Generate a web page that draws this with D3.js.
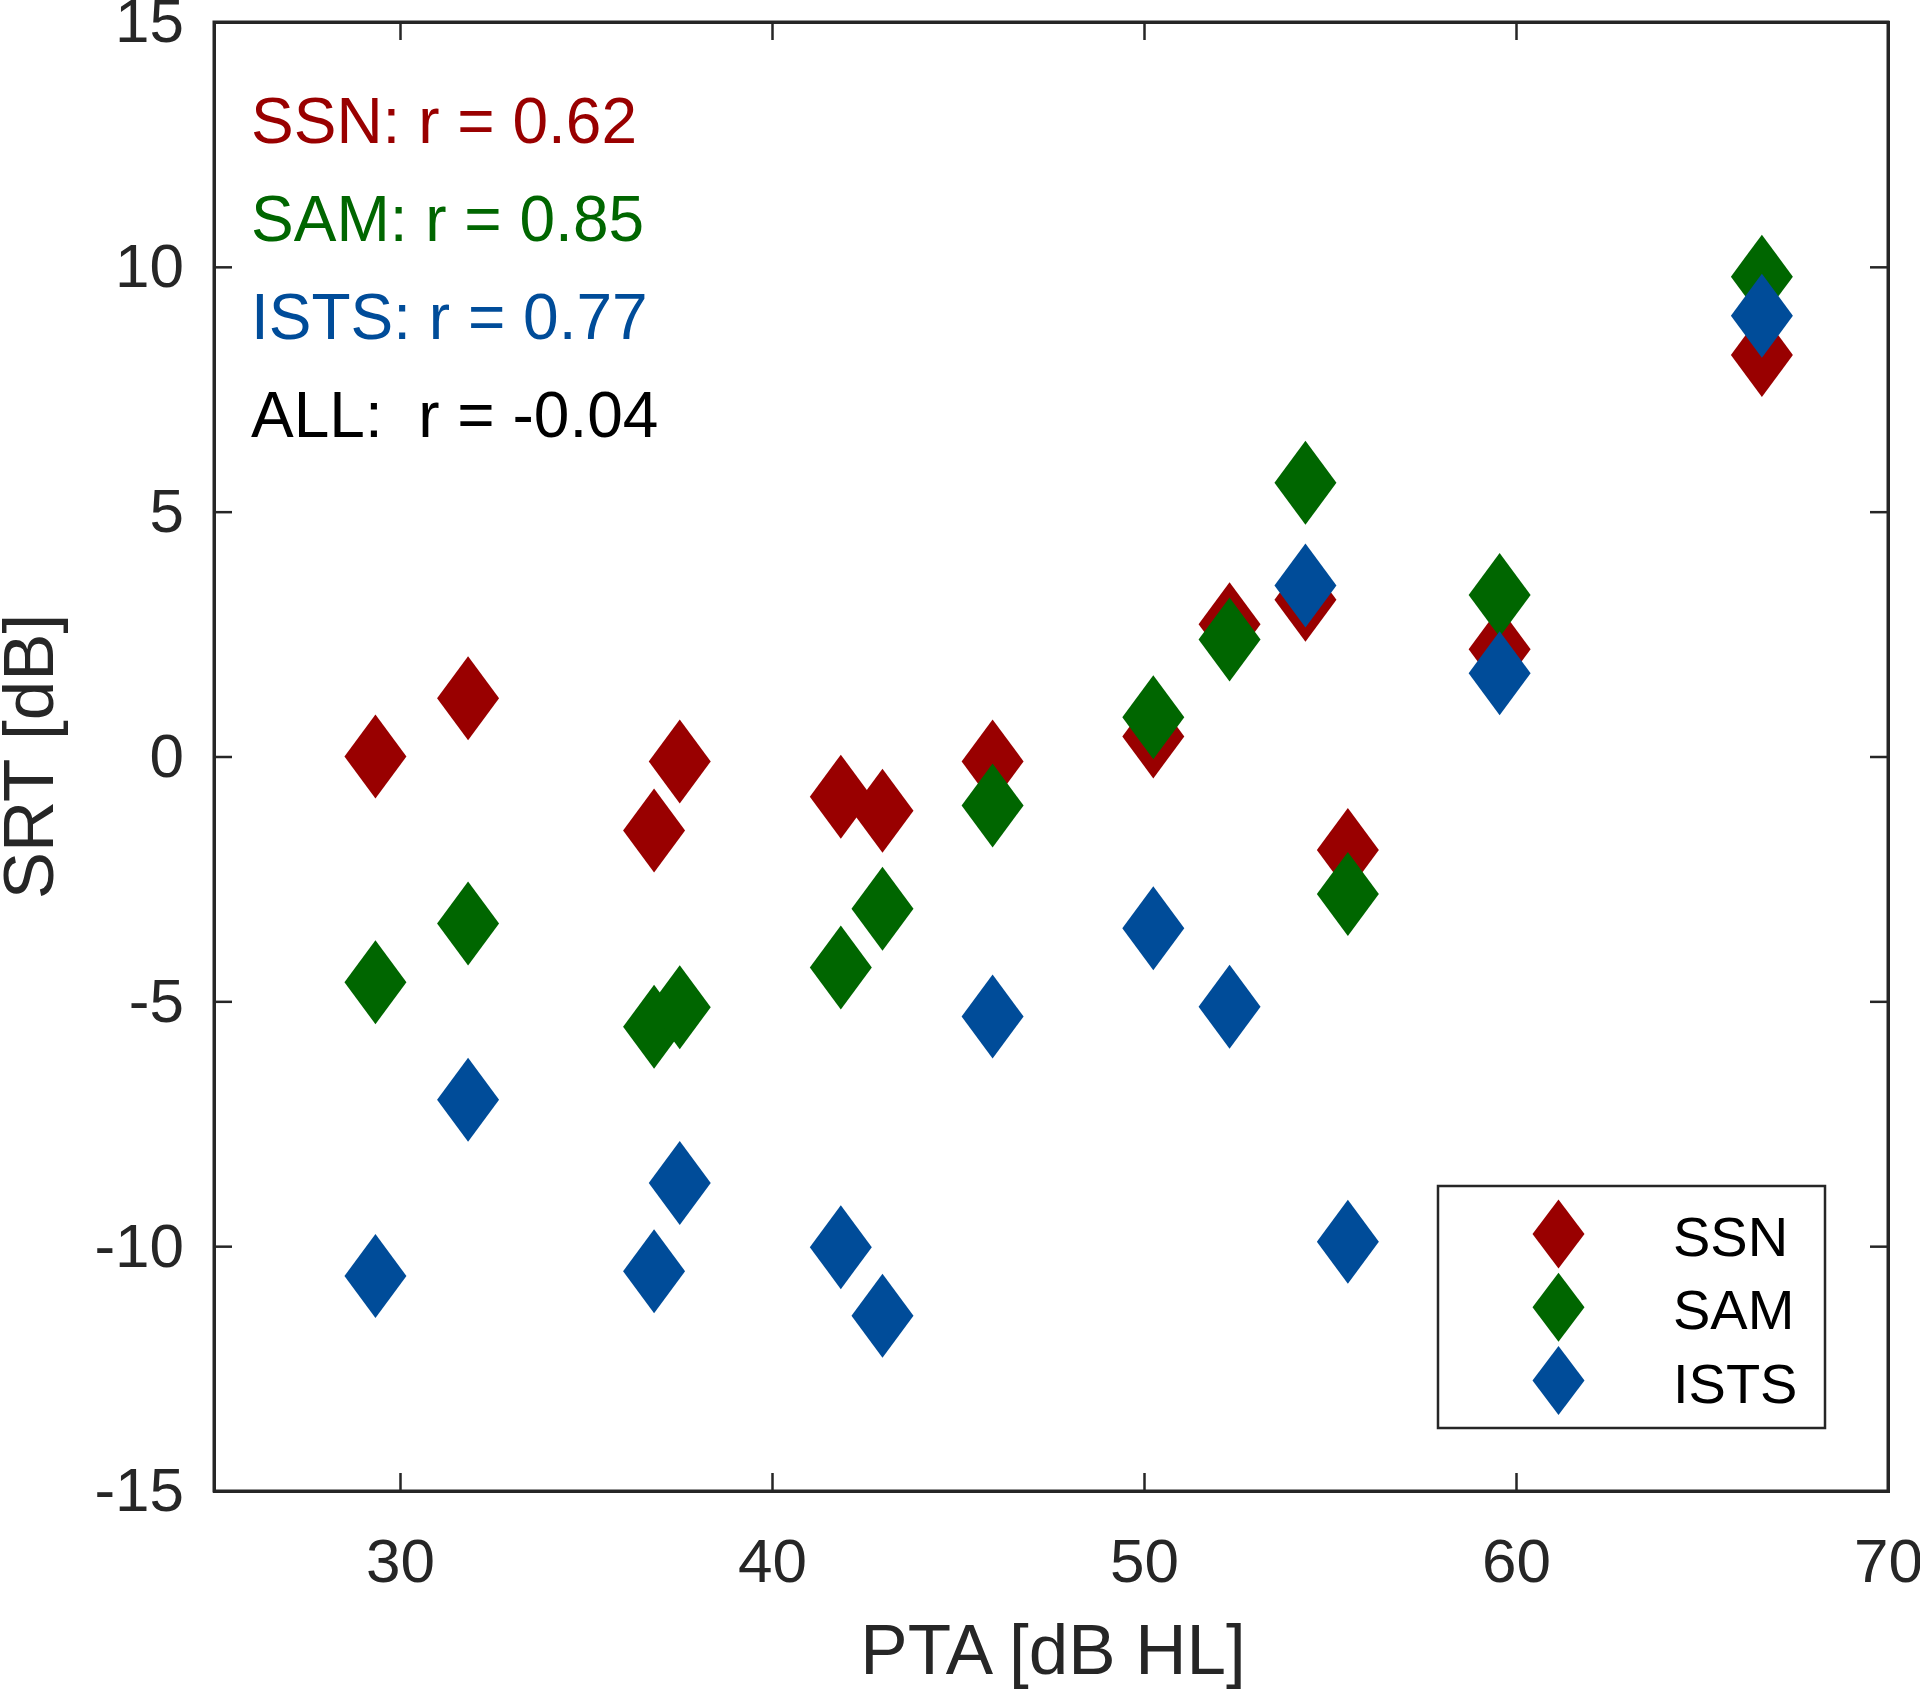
<!DOCTYPE html>
<html>
<head>
<meta charset="utf-8">
<script src="https://cdn.jsdelivr.net/npm/d3@7"></script>
<style>
  html, body { margin: 0; padding: 0; background: #fff; }
  svg { display: block; font-family: "Liberation Sans", Arial, Helvetica, sans-serif; }
</style>
</head>
<body>
<svg id="chart" width="1920" height="1689"></svg>
<script>
// ---- Data ----
const pta  = [29.34, 31.83, 36.83, 37.52, 41.85, 42.97, 45.93, 50.25, 52.3, 54.34, 55.48, 59.56, 66.61];
const ssn  = [0.0, 1.19, -1.51, -0.1, -0.82, -1.11, -0.1, 0.41, 2.7, 3.2, -1.91, 2.19, 8.2];
const sam  = [-4.61, -3.41, -5.52, -5.12, -4.31, -3.11, -1.0, 0.8, 2.39, 5.59, -2.81, 3.3, 9.8];
const ists = [-10.61, -7.01, -10.51, -8.71, -10.02, -11.42, -5.31, -3.51, -5.11, 3.49, -9.91, 1.7, 9.0];

const seriesNames = ["SSN", "SAM", "ISTS"];
const seriesColors = ["#990000", "#006600", "#004C99"];
const xTicks = [30, 40, 50, 60, 70];
const yTicks = [-15, -10, -5, 0, 5, 10, 15];
const annotations = ["SSN: r = 0.62", "SAM: r = 0.85", "ISTS: r = 0.77", "ALL:  r = -0.04"];
const annotationColors = ["#990000", "#006600", "#004C99", "#000000"];

// ---- Layout ----
const L = 214, R = 1888, T = 22, B = 1491;
const svg = d3.select("#chart");
const x = d3.scaleLinear().domain([25, 70]).range([L, R]);
const y = d3.scaleLinear().domain([-15, 15]).range([B, T]);
const axisColor = "#262626";
const tickLen = 18;

svg.append("rect").attr("width", 1920).attr("height", 1689).attr("fill", "#fff");

function diamond(cx, cy, w, h) {
  return `M${cx},${cy - h / 2}L${cx + w / 2},${cy}L${cx},${cy + h / 2}L${cx - w / 2},${cy}Z`;
}

// ---- Points ----
const seriesData = [ssn, sam, ists];
seriesData.forEach((vals, si) => {
  svg.append("g").selectAll("path")
    .data(vals.map((v, i) => ({ x: pta[i], y: v })))
    .join("path")
    .attr("d", d => diamond(x(d.x), y(d.y), 62, 84))
    .attr("fill", seriesColors[si]);
});

// ---- Axes (box with inward ticks on all sides) ----
const fmt = d => String(d); // plain hyphen minus, as in the reference
const gB = svg.append("g").attr("transform", `translate(0,${B})`)
  .call(d3.axisBottom(x).tickValues(xTicks).tickSize(-tickLen).tickPadding(47).tickFormat(fmt));
const gT = svg.append("g").attr("transform", `translate(0,${T})`)
  .call(d3.axisTop(x).tickValues(xTicks).tickSize(-tickLen).tickFormat(""));
const gL = svg.append("g").attr("transform", `translate(${L},0)`)
  .call(d3.axisLeft(y).tickValues(yTicks).tickSize(-tickLen).tickPadding(30).tickFormat(fmt));
const gR = svg.append("g").attr("transform", `translate(${R},0)`)
  .call(d3.axisRight(y).tickValues(yTicks).tickSize(-tickLen).tickFormat(""));

[gB, gT, gL, gR].forEach(g => {
  g.select(".domain").attr("stroke", axisColor).attr("stroke-width", 3);
  g.selectAll(".tick line").attr("stroke", axisColor).attr("stroke-width", 2.5);
  g.selectAll(".tick text").attr("fill", axisColor)
    .attr("font-size", 62).attr("font-family", "Liberation Sans, Arial, sans-serif");
});
svg.append("rect").attr("x", L).attr("y", T).attr("width", R - L).attr("height", B - T)
  .attr("fill", "none").attr("stroke", axisColor).attr("stroke-width", 3);

// ---- Axis labels ----
svg.append("text").attr("x", (L + R) / 2 + 2).attr("y", 1674)
  .attr("text-anchor", "middle").attr("font-size", 71).attr("fill", axisColor)
  .text("PTA [dB HL]");
svg.append("text").attr("transform", `translate(53,${(T + B) / 2}) rotate(-90)`)
  .attr("text-anchor", "middle").attr("font-size", 71).attr("fill", axisColor)
  .text("SRT [dB]");

// ---- Correlation annotations ----
annotations.forEach((t, i) => {
  svg.append("text").attr("x", 251).attr("y", 143 + i * 98)
    .attr("font-size", 64).attr("fill", annotationColors[i])
    .style("white-space", "pre")
    .text(t);
});

// ---- Legend ----
const lg = svg.append("g");
lg.append("rect").attr("x", 1438).attr("y", 1186).attr("width", 387).attr("height", 242)
  .attr("fill", "#fff").attr("stroke", axisColor).attr("stroke-width", 2.5);
seriesNames.forEach((n, i) => {
  const cy = 1234 + i * 73.3;
  lg.append("path").attr("d", diamond(1558.5, cy, 52, 69)).attr("fill", seriesColors[i]);
  lg.append("text").attr("x", 1673).attr("y", cy + 22)
    .attr("font-size", 56).attr("fill", "#000").text(n);
});
</script>
</body>
</html>
